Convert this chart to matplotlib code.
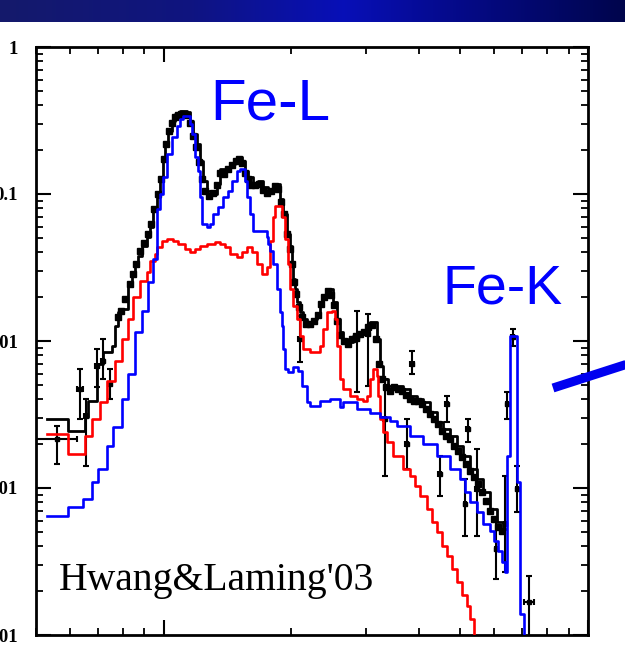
import numpy as np
import matplotlib
matplotlib.use("Agg")
import matplotlib.pyplot as plt
from matplotlib.lines import Line2D
from matplotlib.ticker import FixedLocator, LogLocator, NullFormatter
from matplotlib.colors import LinearSegmentedColormap

# ---------------- data (energy keV, flux) ----------------
blue_E = [0.530, 0.594, 0.644, 0.676, 0.699, 0.734, 0.758, 0.796, 0.822, 0.854, 0.887, 0.917, 0.942, 0.963,
          0.978, 0.995, 1.016, 1.044, 1.073, 1.091, 1.109, 1.152, 1.164, 1.183, 1.203, 1.216, 1.229, 1.263,
          1.284, 1.305, 1.341, 1.377, 1.416, 1.446, 1.486, 1.511, 1.552, 1.570, 1.595, 1.621, 1.750, 1.759,
          1.778, 1.807, 1.847, 1.877, 1.898, 1.909, 1.929, 1.961, 2.015, 2.071, 2.116, 2.175, 2.209, 2.333,
          2.463, 2.600, 2.643, 2.853, 3.061, 3.232, 3.412, 3.544, 3.804, 4.083, 4.403, 4.727, 4.990, 5.127,
          5.269, 5.472, 5.655, 5.873, 5.998, 6.135, 6.270, 6.369, 6.438, 6.546, 6.800, 6.912, 7.063, 7.25]
blue_F = [0.000645, 0.00074, 0.00084, 0.00110, 0.00135, 0.00193, 0.00260, 0.00403, 0.00597, 0.0115, 0.0160,
          0.0252, 0.0361, 0.0791, 0.100, 0.1305, 0.187, 0.244, 0.290, 0.324, 0.339, 0.299, 0.256, 0.179, 0.143,
          0.0954, 0.0625, 0.0597, 0.0625, 0.0731, 0.0816, 0.0954, 0.1048, 0.1226, 0.143, 0.148, 0.1226, 0.0954,
          0.0731, 0.0560, 0.0510, 0.0457, 0.0409, 0.0334, 0.0226, 0.0157, 0.0126, 0.00883, 0.00645, 0.00615,
          0.00665, 0.00625, 0.00494, 0.00385, 0.00361, 0.00391, 0.00403, 0.00356, 0.00385, 0.00345, 0.00324,
          0.00304, 0.00286, 0.00264, 0.00226, 0.00199, 0.00165, 0.00135, 0.00115, 0.00094, 0.00080, 0.00069,
          0.000569, 0.000510, 0.000436, 0.000373, 0.000314, 0.000268, 0.00165, 0.0108, 0.00110, 0.000139,
          0.00008, 0.00008]

red_E = [0.530, 0.594, 0.651, 0.676, 0.706, 0.734, 0.766, 0.796, 0.822, 0.845, 0.878, 0.912, 0.927, 0.952,
         0.963, 0.989, 1.016, 1.050, 1.079, 1.121, 1.152, 1.183, 1.216, 1.263, 1.319, 1.355, 1.393, 1.431,
         1.486, 1.527, 1.570, 1.612, 1.657, 1.703, 1.750, 1.778, 1.807, 1.827, 1.898, 1.929, 1.961, 1.982,
         2.015, 2.060, 2.093, 2.127, 2.209, 2.333, 2.371, 2.424, 2.489, 2.531, 2.559, 2.600, 2.643, 2.746,
         2.853, 2.946, 3.012, 3.061, 3.111, 3.179, 3.197, 3.232, 3.285, 3.357, 3.468, 3.662, 3.804, 3.908,
         4.016, 4.170, 4.287, 4.403, 4.524, 4.651, 4.777, 4.909, 5.040, 5.183, 5.269, 5.383, 5.55]
red_F = [0.00233, 0.00170, 0.00226, 0.00295, 0.00385, 0.00534, 0.00731, 0.0103, 0.0141, 0.0199, 0.0256,
         0.0295, 0.0350, 0.0391, 0.0436, 0.0479, 0.0494, 0.0479, 0.0457, 0.0422, 0.0403, 0.0422, 0.0443,
         0.0457, 0.0471, 0.0457, 0.0436, 0.0391, 0.0373, 0.0403, 0.0436, 0.0403, 0.0334, 0.0286, 0.0319,
         0.0479, 0.0698, 0.0828, 0.0698, 0.0494, 0.0334, 0.0226, 0.0173, 0.0141, 0.0108, 0.00883, 0.00841,
         0.00925, 0.0121, 0.0157, 0.0160, 0.0141, 0.00925, 0.00551, 0.00471, 0.00423, 0.00403, 0.00391,
         0.00423, 0.00551, 0.00645, 0.00578, 0.00423, 0.00295, 0.00240, 0.00206, 0.00165, 0.00135, 0.00121,
         0.00103, 0.00088, 0.00072, 0.000587, 0.000502, 0.000403, 0.000345, 0.000281, 0.000230, 0.000187,
         0.000157, 0.000128, 0.00009, 0.00009]

total_E = [0.530, 0.594, 0.651, 0.662, 0.695, 0.718, 0.754, 0.766, 0.779, 0.800, 0.822, 0.840, 0.854, 0.868,
           0.887, 0.912, 0.927, 0.942, 0.963, 0.978, 0.995, 1.005, 1.022, 1.044, 1.061, 1.091, 1.133, 1.152,
           1.171, 1.196, 1.216, 1.236, 1.263, 1.298, 1.334, 1.355, 1.393, 1.431, 1.471, 1.495, 1.527, 1.552,
           1.578, 1.621, 1.666, 1.712, 1.759, 1.807, 1.847, 1.877, 1.909, 1.950, 1.982, 2.004, 2.015, 2.037,
           2.060, 2.093, 2.127, 2.175, 2.234, 2.296, 2.333, 2.371, 2.424, 2.504, 2.559, 2.600, 2.643, 2.716,
           2.792, 2.899, 3.012, 3.061, 3.179, 3.232, 3.285, 3.376, 3.544, 3.662, 3.804, 3.952, 4.083, 4.240,
           4.403, 4.549, 4.727, 4.909, 5.072, 5.269, 5.472, 5.655, 5.873, 6.100, 6.304, 6.40]
total_F = [0.00295, 0.00244, 0.00304, 0.00391, 0.00698, 0.00841, 0.00925, 0.0126, 0.0157, 0.0165, 0.0237,
           0.0277, 0.0324, 0.0379, 0.0443, 0.0510, 0.0597, 0.0791, 0.0954, 0.1226, 0.168, 0.219, 0.268, 0.314,
           0.350, 0.367, 0.361, 0.314, 0.256, 0.219, 0.168, 0.1226, 0.1048, 0.100, 0.117, 0.148, 0.143, 0.160,
           0.168, 0.179, 0.168, 0.143, 0.1305, 0.117, 0.1226, 0.1116, 0.1048, 0.1116, 0.117, 0.0925, 0.0731,
           0.0534, 0.0443, 0.0345, 0.0264, 0.0226, 0.0184, 0.0157, 0.0141, 0.0135, 0.0141, 0.0148, 0.0173,
           0.0202, 0.0226, 0.0184, 0.0141, 0.0115, 0.0103, 0.00984, 0.0108, 0.0115, 0.0121, 0.0135, 0.0103,
           0.00676, 0.00551, 0.00494, 0.00494, 0.00471, 0.00423, 0.00403, 0.00385, 0.00329, 0.00281, 0.00252,
           0.00226, 0.00193, 0.00165, 0.00135, 0.00115, 0.00094, 0.00072, 0.000587, 0.000526, 0.000526]

data_E = [0.779, 0.792, 0.809, 0.832, 0.845, 0.859, 0.878, 0.897, 0.917, 0.932,
          0.947, 0.968, 0.984, 1.000, 1.011, 1.028, 1.044, 1.061, 1.079, 1.097,
          1.115, 1.133, 1.152, 1.171, 1.190, 1.209, 1.229, 1.249, 1.277, 1.305,
          1.334, 1.355, 1.385, 1.416, 1.446, 1.478, 1.503, 1.527, 1.552, 1.578,
          1.604, 1.639, 1.675, 1.712, 1.750, 1.788, 1.827, 1.857, 1.888, 1.919,
          1.950, 1.982, 2.004, 2.026, 2.048, 2.082, 2.116, 2.162, 2.209, 2.259,
          2.307, 2.346, 2.384, 2.437, 2.476, 2.517, 2.559, 2.600, 2.658, 2.716,
          2.776, 2.837, 2.899, 2.963, 3.028, 3.094, 3.162, 3.214, 3.267, 3.339,
          3.412, 3.487, 3.564, 3.642, 3.722, 3.804, 3.887, 3.973, 4.060, 4.149,
          4.240, 4.333, 4.428, 4.524, 4.624, 4.727, 4.830, 4.936, 5.045, 5.155,
          5.269, 5.383, 5.503, 5.623, 5.746, 5.873, 5.998, 6.135, 6.270]
data_F = [0.01456, 0.0160, 0.0193, 0.0244, 0.0286, 0.0334, 0.0409, 0.0464, 0.0534, 0.0625,
          0.0791, 0.100, 0.1265, 0.173, 0.219, 0.268, 0.304, 0.334, 0.345, 0.350,
          0.350, 0.345, 0.304, 0.248, 0.209, 0.165, 0.1265, 0.1048, 0.0969, 0.1016,
          0.1151, 0.139, 0.1368, 0.148, 0.1575, 0.168, 0.173, 0.1625, 0.139, 0.1265,
          0.1151, 0.1151, 0.117, 0.1065, 0.1016, 0.1048, 0.1133, 0.1081, 0.0883, 0.0731,
          0.0534, 0.0422, 0.0334, 0.0252, 0.0209, 0.0170, 0.01456, 0.0130, 0.0130, 0.01368,
          0.01503, 0.01786, 0.0199, 0.0219, 0.02055, 0.01758, 0.01368, 0.01099, 0.0100, 0.00955,
          0.0103, 0.0108, 0.01116, 0.0115, 0.01245, 0.01285, 0.0103, 0.00698, 0.00551, 0.00486,
          0.00457, 0.00486, 0.00471, 0.00457, 0.0043, 0.00403, 0.00391, 0.00391, 0.00373, 0.00345,
          0.00319, 0.00295, 0.00272, 0.00244, 0.00226, 0.00215, 0.00193, 0.00179, 0.00163, 0.00146,
          0.00131, 0.00119, 0.00106, 0.00094, 0.00082, 0.00070, 0.000616, 0.000543, 0.000510]

err_E = [0.559, 0.634, 0.657, 0.695, 0.718, 0.746, 2.093, 2.853, 3.028, 3.32, 3.846, 3.74, 4.651, 4.477,
         5.21, 5.127, 5.472, 6.07, 6.369, 6.438, 6.65, 6.80, 7.26]
err_F = [0.00215, 0.00471, 0.00309, 0.00676, 0.00731, 0.0051, 0.0103, 0.0103, 0.0112, 0.00295, 0.00698,
         0.00199, 0.00373, 0.00125, 0.00252, 0.00078, 0.00098, 0.000385, 0.000569, 0.00373, 0.01064, 0.00098,
         0.000168]
err_Flo = [0.00146, 0.00295, 0.00141, 0.00486, 0.00551, 0.00403, 0.0072, 0.0045, 0.00494, 0.00121, 0.00597,
           0.00135, 0.00281, 0.00088, 0.00206, 0.00047, 0.00047, 0.00024, 0.000268, 0.00295, 0.00925, 0.00069,
           0.00009]
err_Fhi = [0.00264, 0.00645, 0.00403, 0.00883, 0.0103, 0.00645, 0.0148, 0.0160, 0.0153, 0.00551, 0.00855,
           0.00295, 0.00423, 0.00165, 0.00295, 0.00115, 0.00184, 0.000587, 0.00121, 0.0045, 0.0121, 0.00141,
           0.000252]
err_Elo = [0.497, 0.625, 0.650, 0.688, 0.711, 0.739, 2.07, 2.83, 3.00, 3.29, 3.81, 3.71, 4.61, 4.44, 5.17,
           5.09, 5.43, 6.03, 6.33, 6.40, 6.60, 6.75, 7.06]
err_Ehi = [0.623, 0.644, 0.664, 0.702, 0.725, 0.753, 2.12, 2.88, 3.06, 3.35, 3.88, 3.77, 4.69, 4.51, 5.25,
           5.17, 5.51, 6.11, 6.41, 6.48, 6.70, 6.85, 7.48]

ytick_vals = [1e-4, 1e-3, 1e-2, 1e-1, 1]
ytick_labels = ["0.0001", "0.001", "0.01", "0.1", "1"]

# ---------------- figure ----------------
W, H = 625, 648
fig = plt.figure(figsize=(W / 100, H / 100), dpi=100)
fig.patch.set_facecolor("white")

# banner at top
bax = fig.add_axes([0, 1 - 22 / H, 1, 22 / H])
cmap = LinearSegmentedColormap.from_list(
    "banner",
    [(0.0, (0.08, 0.10, 0.42)), (0.3, (0.06, 0.08, 0.50)), (0.55, (0.03, 0.06, 0.72)),
     (0.72, (0.02, 0.04, 0.55)), (1.0, (0.0, 0.02, 0.30))])
bax.imshow(np.linspace(0, 1, 256)[None, :], aspect="auto", cmap=cmap, extent=[0, 1, 0, 1])
bax.set_axis_off()

ax = fig.add_axes([36 / W, 13 / H, 552 / W, 588 / H])
ax.set_xscale("log")
ax.set_yscale("log")
ax.set_xlim(0.5, 10)
ax.set_ylim(1e-4, 1)

# data points
ax.plot(data_E, data_F, "s", color="black", ms=4.3, zorder=2)
E = np.array(err_E); F = np.array(err_F)
ax.errorbar(E, F,
            yerr=[F - np.array(err_Flo), np.array(err_Fhi) - F],
            xerr=[E - np.array(err_Elo), np.array(err_Ehi) - E],
            fmt="s", ms=3.2, color="black", ecolor="black", elinewidth=1.5, capsize=2.5,
            capthick=1.5, zorder=2)

ax.step(total_E, total_F, where="post", color="black", lw=2.0, zorder=3)
ax.step(red_E, red_F, where="post", color="#ff0000", lw=1.9, zorder=4)
ax.step(blue_E, blue_F, where="post", color="#0000ff", lw=1.9, zorder=5)

# ticks
ax.set_yticks(ytick_vals, labels=ytick_labels, fontsize=13.5, fontweight="bold",
              fontfamily="Liberation Serif")
ax.yaxis.set_minor_locator(LogLocator(base=10, subs=np.arange(2, 10), numticks=20))
ax.yaxis.set_minor_formatter(NullFormatter())
ax.xaxis.set_major_locator(FixedLocator([1, 10]))
ax.xaxis.set_minor_locator(LogLocator(base=10, subs=np.arange(2, 10), numticks=20))
ax.xaxis.set_minor_formatter(NullFormatter())
ax.tick_params(which="both", direction="in", top=True, right=True, labelbottom=False)
ax.tick_params(which="major", length=11, width=1.5)
ax.tick_params(which="minor", length=5, width=1.3)
ax.tick_params(axis="y", which="major", pad=13)
for s in ax.spines.values():
    s.set_linewidth(2)

# texts
fig.text(210 / W, 1 - 120 / H, "Fe-L", color="#0000ff", fontsize=42,
         family="Liberation Sans", va="baseline", ha="left")
fig.text(442 / W, 1 - 303 / H, "Fe-K", color="#0000ff", fontsize=40,
         family="Liberation Sans", va="baseline", ha="left")
fig.text(59 / W, 1 - 590 / H, "Hwang&Laming'03", color="black", fontsize=28.5,
         family="Liberation Serif", va="baseline", ha="left")

# pointer line
fig.add_artist(Line2D([553 / W, 640 / W], [1 - 388 / H, 1 - 360 / H], transform=fig.transFigure,
                      color="#0000f0", lw=6.5, solid_capstyle="butt"))

fig.savefig("out.png", dpi=100)
